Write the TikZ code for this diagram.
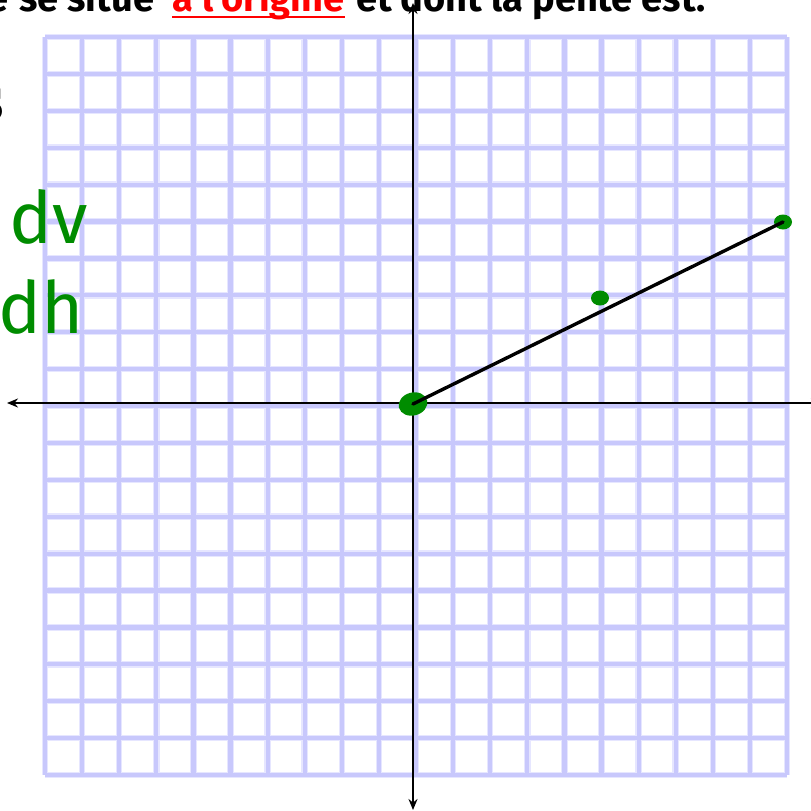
\documentclass[tikz,border=0pt]{standalone}
\usepackage{fontspec}
\setmainfont{Fira Sans}
\newfontfamily\lmfont{Latin Modern Roman}
\usetikzlibrary{arrows.meta,shapes.geometric}
\definecolor{gridc}{RGB}{200,200,252}
\definecolor{gridl}{RGB}{230,230,255}
\definecolor{pen}{RGB}{0,140,0}
\tikzset{
  gridlo/.style={draw=gridl, line width=6.5pt, line cap=square},
  gridhi/.style={draw=gridc, line width=4.2pt, line cap=square},
  axis/.style={draw=black, line width=2.8pt, {Stealth[length=11pt,width=9pt]}-{Stealth[length=11pt,width=9pt]}},
  seg/.style={draw=black, line width=3.4pt, line cap=round},
  dot/.style={ellipse, fill=pen, draw=none, inner sep=0pt},
  toptext/.style={font=\fontsize{38}{38}\selectfont\bfseries, inner sep=0pt},
  hand/.style={font=\fontsize{72}{72}\selectfont, text=pen, inner sep=0pt},
}
\begin{document}
\begin{tikzpicture}[x=1pt,y=-1pt]
\useasboundingbox (0,0) rectangle (811,811);
\clip (0,0) rectangle (811,811);
\fill[white] (0,0) rectangle (811,811);
% grid
\foreach \i in {0,...,20}{
  \draw[gridlo] ({45+37.1*\i},37) -- ({45+37.1*\i},775);
  \draw[gridlo] (45,{37+36.9*\i}) -- (787,{37+36.9*\i});
}
\foreach \i in {0,...,20}{
  \draw[gridhi] ({45+37.1*\i},37) -- ({45+37.1*\i},775);
  \draw[gridhi] (45,{37+36.9*\i}) -- (787,{37+36.9*\i});
}
% axes
\coordinate (ytop) at (413,3);
\coordinate (ybot) at (413,810);
\coordinate (xleft) at (7,403);
\coordinate (xright) at (822,403);
\draw[axis] (ybot) -- (ytop);
\draw[axis] (xright) -- (xleft);
% points
\node[dot, minimum width=29pt, minimum height=23pt, rotate=15] (O) at (413,404) {};
\node[dot, minimum width=18pt, minimum height=15pt] (P) at (600,298) {};
\node[dot, minimum width=18pt, minimum height=15pt] (Q) at (783,222) {};
\draw[seg] (O.center) -- (Q.center);
% top text
\node[toptext, anchor=base east] (w0) at (9,11) {droite};
\node[toptext, anchor=base west] (w1) at (19,11) {se situe};
\node[toptext, text=red, anchor=base west] (w2) at (172,11) {à l'origine};
\node[toptext, anchor=base west] (w3) at (356,11) {et dont la pente est:};
\draw[red, line width=2.5pt] ([yshift=-6pt]w2.base west) -- ([yshift=-6pt]w2.base east);
% left partial letter
\node[font=\lmfont\fontsize{72}{72}\selectfont, inner sep=0pt, anchor=base east] (s) at (5,120) {s};
% handwriting
\node[hand, anchor=base west] (dv) at (9,243) {dv};
\node[hand, anchor=base west] (dh) at (-2,333) {dh};
\end{tikzpicture}
\end{document}
